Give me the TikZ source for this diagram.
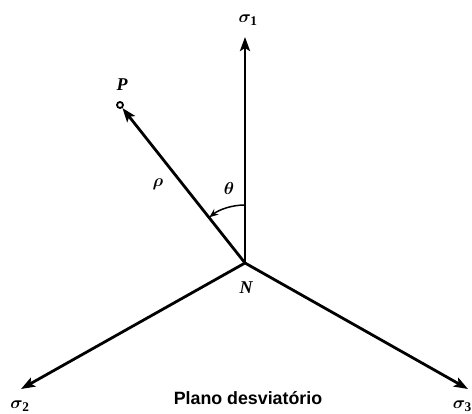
\documentclass[tikz,border=0pt]{standalone}
\usepackage{amsmath,bm}
\usepackage{fontspec}
\setmainfont{Liberation Serif}
\setsansfont{Liberation Sans}
\usetikzlibrary{arrows.meta,calc}
\begin{document}
\begin{tikzpicture}[x=1pt,y=-1pt,
  axis/.style={line width=2.8pt,-{Stealth[length=14pt,width=10pt,inset=3pt]}},
  lbl/.style={inner sep=0pt,font=\fontsize{18}{18}\selectfont\bfseries\itshape},
  slbl/.style={inner sep=0pt,font=\fontsize{19}{19}\selectfont}]
\useasboundingbox (0,0) rectangle (472,414);
\coordinate (N) at (245,263);
\coordinate (S1) at (245,37);
\coordinate (S2) at (21,389);
\coordinate (S3) at (468,389);
\node[draw,circle,line width=1.8pt,inner sep=0pt,minimum size=6pt] (P) at (120,105) {};
\draw[axis] (N) -- (S1);
\draw[axis] (N) -- (S2);
\draw[axis] (N) -- (S3);
\draw[axis] (N) -- (P);
\draw[line width=1.5pt,-{Stealth[length=9pt,width=7pt]}] ($(N)+(0,-58)$) arc[start angle=-90,end angle=-128,radius=58];
\node[slbl] (s1) at (248,20) {$\bm{\sigma}_{\mathbf{1}}$};
\node[slbl] (s2) at (20,406) {$\bm{\sigma}_{\mathbf{2}}$};
\node[slbl,anchor=east] (s3) at (472,406) {$\bm{\sigma}_{\mathbf{3}}$};
\node[lbl] (Pl) at (122,85) {P};
\node[lbl] (Nl) at (246,288) {N};
\node[slbl,font=\fontsize{18}{18}\selectfont] (rho) at (158,184) {$\bm{\rho}$};
\node[slbl,font=\fontsize{18}{18}\selectfont] (th) at (229,189) {$\bm{\theta}$};
\node[inner sep=0pt,font=\sffamily\bfseries\fontsize{17.8}{17.8}\selectfont] (cap) at (248,398) {Plano desviatório};
\end{tikzpicture}
\end{document}
